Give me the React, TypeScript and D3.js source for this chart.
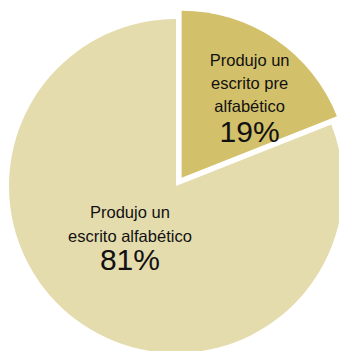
import React from "react";
import * as d3 from "d3";

const categories = ["Produjo un escrito pre alfabético", "Produjo un escrito alfabético"];
const values = [19, 81];
const labelLines = [
  ["Produjo un", "escrito pre", "alfabético"],
  ["Produjo un", "escrito alfabético"],
];
const colors = ["#d3c06a", "#e5dcae"];

const W = 339;
const H = 351;
const cx = 176;
const cy = 186;
const R = 167;
const explode = [10, 0];
const labelR = [121, 82];

export default function App() {
  const pie = d3.pie<number>().sort(null).value((d) => d);
  const arcs = pie(values);
  const arc = d3.arc<d3.PieArcDatum<number>>().innerRadius(0).outerRadius(R);

  return (
    <svg
      width={W}
      height={H}
      style={{ position: "absolute", left: 0, top: 0, background: "#fff" }}
      fontFamily="'Liberation Sans', Arial, Helvetica, sans-serif"
    >
      {arcs.map((a, i) => {
        const mid = (a.startAngle + a.endAngle) / 2;
        const dx = Math.sin(mid) * explode[i];
        const dy = -Math.cos(mid) * explode[i];
        const lx = Math.sin(mid) * labelR[i];
        const ly = -Math.cos(mid) * labelR[i];
        const lines = labelLines[i];
        const n = lines.length;
        // line baselines relative to anchor
        const startY = i === 0 ? -11.6 : -36;
        const pctY = i === 0 ? startY + 23 * (n - 1) + 30 : startY + 24 * (n - 1) + 28;
        return (
          <g key={categories[i]} transform={`translate(${cx + dx},${cy + dy})`}>
            <path d={arc(a) || ""} fill={colors[i]} />
            <g transform={`translate(${lx},${ly})`} textAnchor="middle" fill="#111">
              {lines.map((t, j) => (
                <text key={j} x={0} y={startY + j * (i === 0 ? 23 : 24)} fontSize={16.5}>
                  {t}
                </text>
              ))}
              <text x={0} y={pctY} fontSize={30}>
                {values[i]}%
              </text>
            </g>
          </g>
        );
      })}
    </svg>
  );
}
